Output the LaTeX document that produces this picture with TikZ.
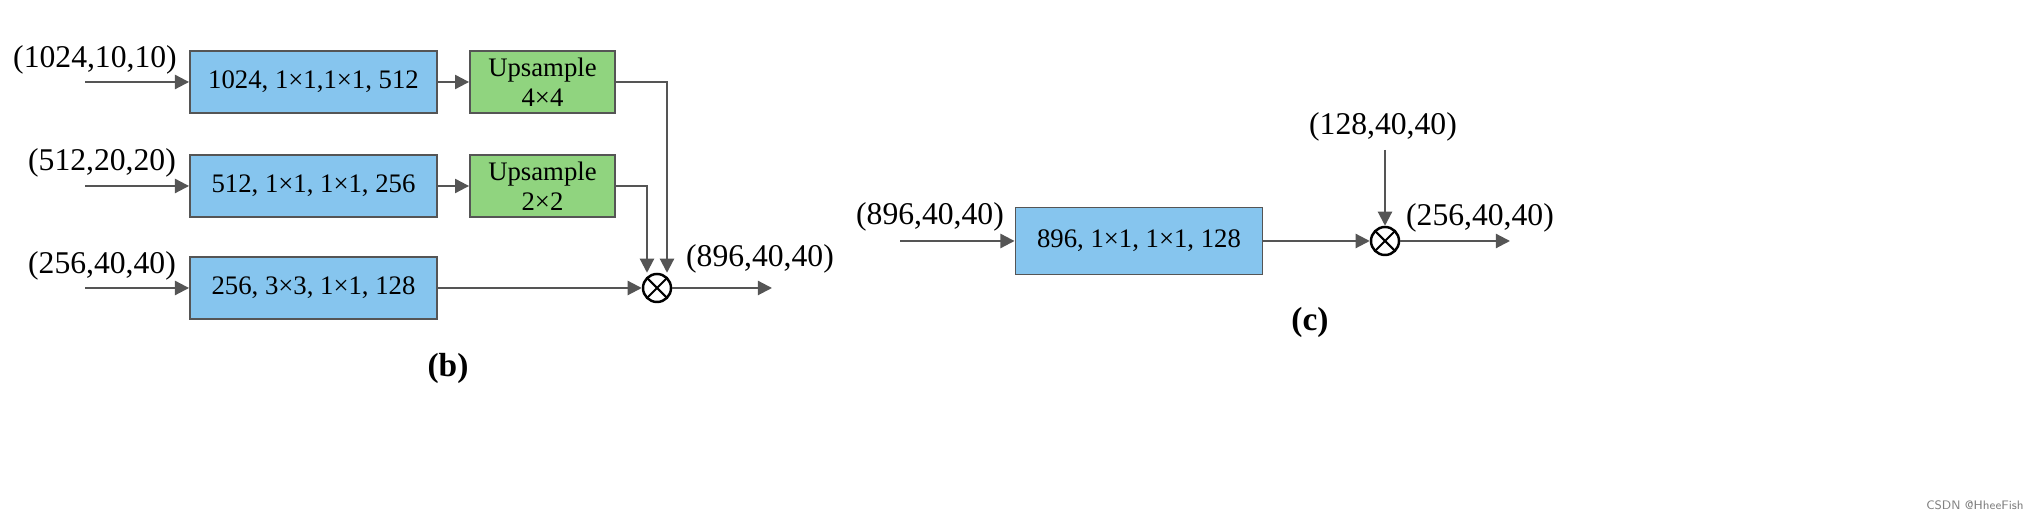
\documentclass[tikz,border=0pt]{standalone}
\usepackage{fontspec}
\setmainfont{Liberation Serif}
\usetikzlibrary{arrows.meta}
\definecolor{bbox}{HTML}{86C5EE}
\definecolor{gbox}{HTML}{90D47F}
\definecolor{ln}{HTML}{555555}
\tikzset{
  blk/.style={draw=ln,line width=0.5pt,minimum height=0.62cm,inner sep=0pt,font=\fontsize{7.6}{8.6}\selectfont,align=center},
  bluebox/.style={blk,fill=bbox,minimum width=2.47cm},
  greenbox/.style={blk,fill=gbox,minimum width=1.45cm},
  arr/.style={draw=ln,line width=0.6pt,-{Triangle[length=4pt,width=4pt]}},
  lbl/.style={font=\fontsize{9}{11}\selectfont,inner sep=0pt},
  mul/.style={circle,draw=black,line width=0.7pt,minimum size=0.28cm,inner sep=0pt,path picture={\draw[black,line width=0.6pt] (path picture bounding box.north west)--(path picture bounding box.south east) (path picture bounding box.north east)--(path picture bounding box.south west);}}
}
\begin{document}
\begin{tikzpicture}[x=0.01cm,y=-0.01cm]
\useasboundingbox (0,0) rectangle (2032,522);
% (b)
\node[bluebox] (b1) at (313.5,82) {1024, 1×1,1×1, 512};
\node[greenbox] (g1) at (542.5,82) {Upsample\\4×4};
\node[bluebox] (b2) at (313.5,186) {512, 1×1, 1×1, 256};
\node[greenbox] (g2) at (542.5,186) {Upsample\\2×2};
\node[bluebox] (b3) at (313.5,288) {256, 3×3, 1×1, 128};
\node[mul] (m1) at (657,288) {};
\coordinate (i1) at (85,82); \coordinate (i2) at (85,186); \coordinate (i3) at (85,288);
\coordinate (o1) at (772,288);
\node[lbl] (l1) at (95,60) {(1024,10,10)};
\node[lbl] (l2) at (102,163) {(512,20,20)};
\node[lbl] (l3) at (102,266) {(256,40,40)};
\node[lbl] (l4) at (760,259) {(896,40,40)};
\draw[arr] (i1) -- (b1);
\draw[arr] (i2) -- (b2);
\draw[arr] (i3) -- (b3);
\draw[arr] (b1) -- (g1);
\draw[arr] (b2) -- (g2);
\draw[arr] (g1.east) -| ([xshift=0.1cm]m1.north);
\draw[arr] (g2.east) -| ([xshift=-0.1cm]m1.north);
\draw[arr] (b3) -- (m1);
\draw[arr] (m1) -- (o1);
\node[font=\fontsize{9.5}{11}\selectfont\bfseries] (tb) at (448,368) {(b)};
% (c)
\node[bluebox,minimum height=0.67cm] (c1) at (1139,241) {896, 1×1, 1×1, 128};
\node[mul] (m2) at (1385,241) {};
\coordinate (ci) at (900,241); \coordinate (ct) at (1385,150); \coordinate (co) at (1510,241);
\node[lbl] (cl1) at (930,217) {(896,40,40)};
\node[lbl] (cl2) at (1383,127) {(128,40,40)};
\node[lbl] (cl3) at (1480,218) {(256,40,40)};
\draw[arr] (ci) -- (c1);
\draw[arr] (c1) -- (m2);
\draw[arr] (ct) -- (m2);
\draw[arr] (m2) -- (co);
\node[font=\fontsize{9.5}{11}\selectfont\bfseries] (tc) at (1310,322) {(c)};
\node[font=\fontsize{3.5}{4}\selectfont\sffamily,text=gray] (wm) at (1975,505) {CSDN @HheeFish};
\end{tikzpicture}
\end{document}
